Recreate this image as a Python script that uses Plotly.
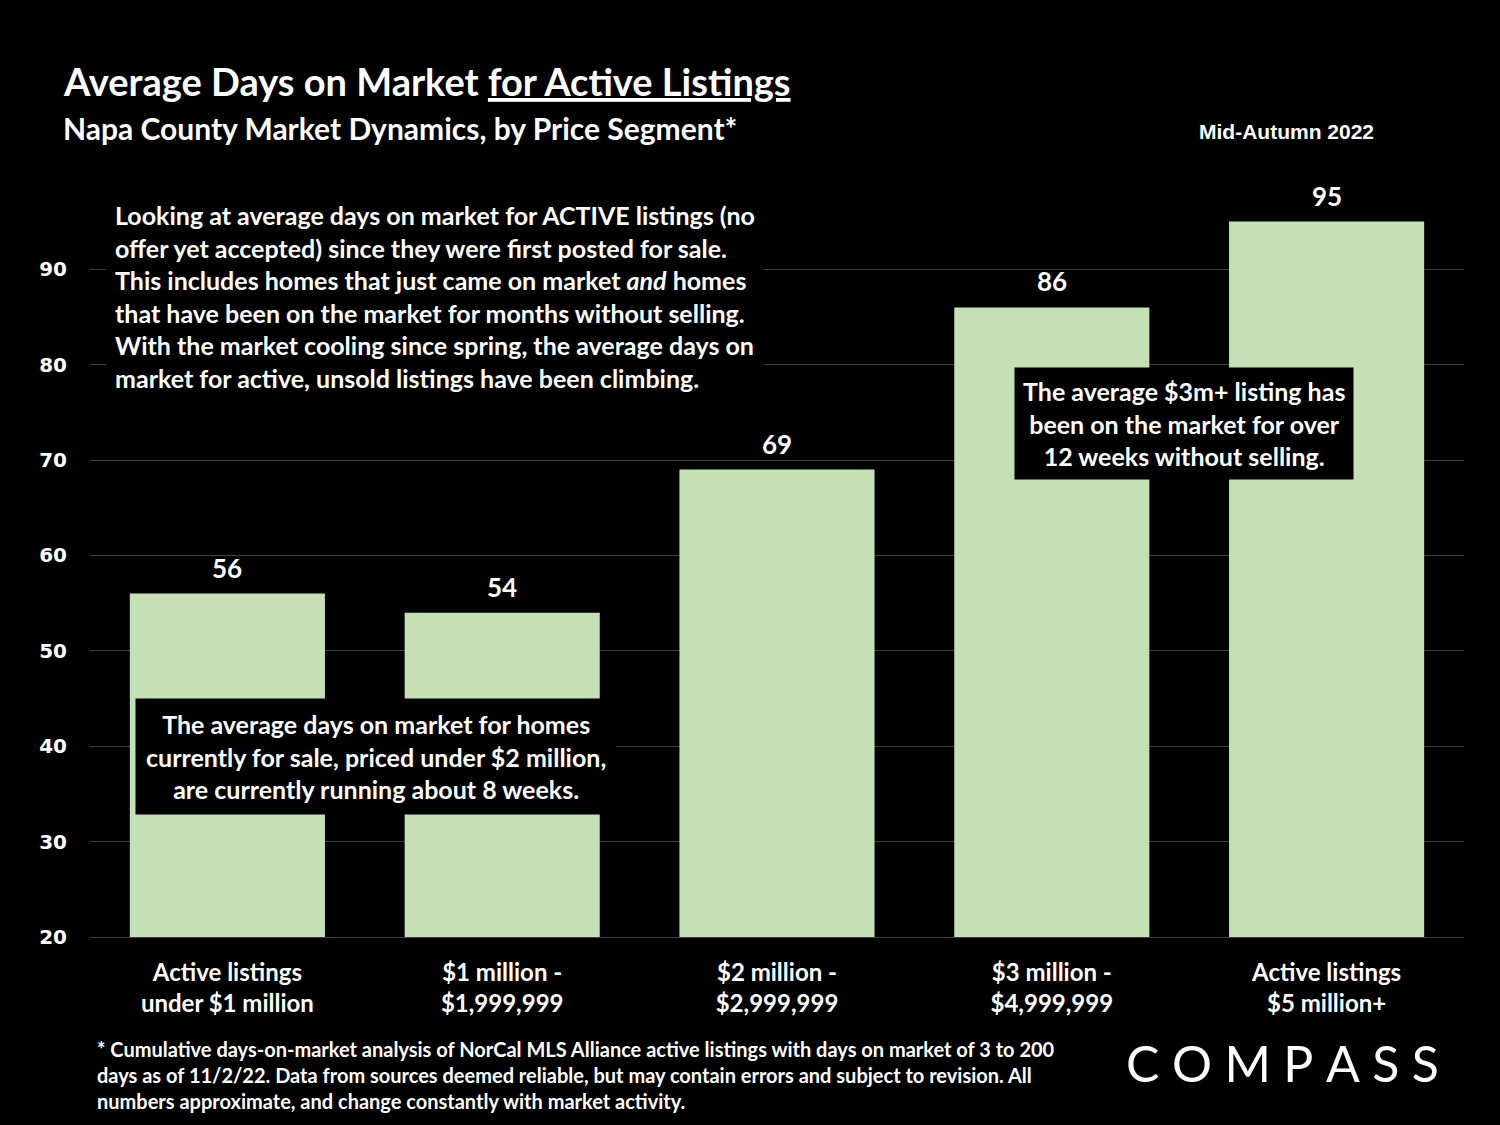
import plotly.graph_objects as go

categories = ["Active listings<br>under $1 million", "$1 million -<br>$1,999,999",
              "$2 million -<br>$2,999,999", "$3 million -<br>$4,999,999",
              "Active listings<br>$5 million+"]
values = [56, 54, 69, 86, 95]
y_ticks = [20, 30, 40, 50, 60, 70, 80, 90]

W, H = 1500, 1125
L, R, T, B = 90, 1464, 193, 937   # plot area in pixels


def px(x):
    return (x - L) / (R - L)


def py(y):
    return (B - y) / (B - T)


FONT = "Lato"
BAR = "#C5E0B4"

fig = go.Figure()
fig.add_trace(go.Bar(x=categories, y=values, marker=dict(color=BAR, line=dict(width=0)),
                     hoverinfo="skip"))

annotations = []
# value labels
for c, v in zip(categories, values):
    annotations.append(dict(x=c, y=v, xref="x", yref="y", text=f"<b>{v}</b>",
                            showarrow=False, yanchor="bottom", yshift=8,
                            font=dict(family=FONT, size=26, color="white")))

# Title
annotations.append(dict(x=px(61), y=py(81), xref="paper", yref="paper",
                        xanchor="left", yanchor="middle", showarrow=False,
                        text="<b>Average Days on Market <u>for Active Listings</u></b>",
                        font=dict(family=FONT, size=38, color="white")))
annotations.append(dict(x=px(61), y=py(128), xref="paper", yref="paper",
                        xanchor="left", yanchor="middle", showarrow=False,
                        text="<b>Napa County Market Dynamics, by Price Segment*</b>",
                        font=dict(family=FONT, size=30, color="white")))
annotations.append(dict(x=px(1286), y=py(132), xref="paper", yref="paper",
                        xanchor="center", yanchor="middle", showarrow=False,
                        text="<b>Mid-Autumn 2022</b>",
                        font=dict(family="Liberation Sans", size=21, color="white")))

# Big text block
big = ("Looking at average days on market for ACTIVE listings (no<br>"
       "offer yet accepted) since they were first posted for sale.<br>"
       "This includes homes that just came on market <i>and</i> homes<br>"
       "that have been on the market for months without selling.<br>"
       "With the market cooling since spring, the average days on<br>"
       "market for active, unsold listings have been climbing.")
annotations.append(dict(x=px(106), y=py(191), xref="paper", yref="paper",
                        xanchor="left", yanchor="top", showarrow=False, align="left",
                        text="<b>" + big + "</b>", bgcolor="black", borderpad=8,
                        font=dict(family=FONT, size=25, color="white")))

# Lower annotation
low = ("The average days on market for homes<br>"
       "currently for sale, priced under $2 million,<br>"
       "are currently running about 8 weeks.")
annotations.append(dict(x=px(376), y=py(756), xref="paper", yref="paper",
                        xanchor="center", yanchor="middle", showarrow=False, align="center",
                        text="<b>" + low + "</b>", bgcolor="black", borderpad=10,
                        font=dict(family=FONT, size=25, color="white")))

# Right annotation
right = ("The average $3m+ listing has<br>"
         "been on the market for over<br>"
         "12 weeks without selling.")
annotations.append(dict(x=px(1184), y=py(423), xref="paper", yref="paper",
                        xanchor="center", yanchor="middle", showarrow=False, align="center",
                        text="<b>" + right + "</b>", bgcolor="black", borderpad=8,
                        font=dict(family=FONT, size=25, color="white")))

# Footnote
foot = ("* Cumulative days-on-market analysis of NorCal MLS Alliance active listings with days on market of 3 to 200<br>"
        "days as of 11/2/22. Data from sources deemed reliable, but may contain errors and subject to revision. All<br>"
        "numbers approximate, and change constantly with market activity.")
annotations.append(dict(x=px(95), y=py(1035), xref="paper", yref="paper",
                        xanchor="left", yanchor="top", showarrow=False, align="left",
                        text="<b>" + foot + "</b>",
                        font=dict(family=FONT, size=20, color="white")))

# Logo
annotations.append(dict(x=px(1282), y=py(1063), xref="paper", yref="paper",
                        xanchor="center", yanchor="middle", showarrow=False,
                        text="C\u2005O\u2005M\u2005P\u2005A\u2005S\u2005S",
                        font=dict(family="Lato", size=50, color="white")))

fig.update_layout(
    width=W, height=H,
    paper_bgcolor="black", plot_bgcolor="black",
    margin=dict(l=L, r=W - R, t=T, b=H - B, pad=0),
    bargap=0.29,
    showlegend=False,
    annotations=annotations,
    xaxis=dict(showgrid=False, showline=True, linecolor="#404040", linewidth=1,
               ticks="", tickfont=dict(family=FONT, size=24, color="white"),
               tickvals=categories, ticktext=[f"<b>{c}</b>" for c in categories],
               ticklabelstandoff=14, fixedrange=True),
    yaxis=dict(range=[20, 98], tickvals=y_ticks,
               ticktext=[f"<b>{t}</b>" for t in y_ticks],
               showgrid=True, gridcolor="#404040",
               gridwidth=1, zeroline=False, showline=False, ticks="",
               tickfont=dict(family="DejaVu Sans", size=20, color="white"),
               ticklabelstandoff=22, fixedrange=True),
)

fig.write_html("out.html", config={"displayModeBar": False},
               post_script="document.body.style.margin='0';document.body.style.background='black';")
